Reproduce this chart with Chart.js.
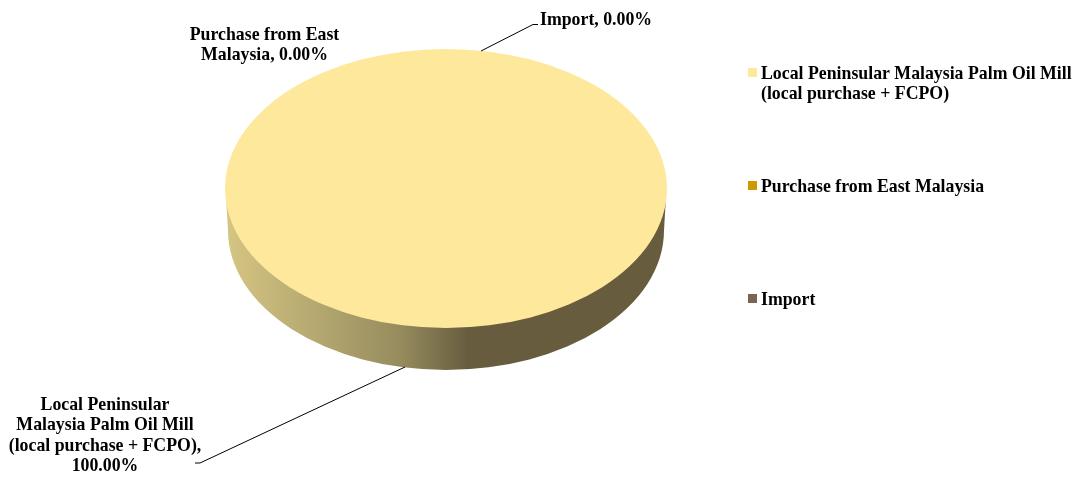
<!DOCTYPE html>
<html>
<head>
<meta charset="utf-8">
<title>Palm oil source</title>
<script src="https://cdn.jsdelivr.net/npm/chart.js@4"></script>
<style>
  html, body { margin: 0; padding: 0; background: #fff; }
  canvas { display: block; }
</style>
</head>
<body>
<canvas id="pieChart" width="1076" height="478"></canvas>
<script>
const categories = ['Local Peninsular Malaysia Palm Oil Mill (local purchase + FCPO)', 'Purchase from East Malaysia', 'Import'];
const shares = [100, 0, 0];
const sliceColors = ['#fee89b', '#c99b00', '#7a6555'];

// line breaks as they appear in the legend and in the slice labels
const legendLines = [['Local Peninsular Malaysia Palm Oil Mill', '(local purchase + FCPO)'], ['Purchase from East Malaysia'], ['Import']];
const labelLines = [['Local Peninsular', 'Malaysia Palm Oil Mill', '(local purchase + FCPO),'], ['Purchase from East'], []];

const FONT = 'bold 17.8px "Liberation Serif"';
const STRETCH_X = 221 / 139.5; // pie is squashed into an ellipse
const DEPTH = 42;
const WALL_INSET = 3; // bottom rim is a little narrower than the top face

// wall of the disc plus the squash transform around the pie
const tiltPlugin = {
    id: 'tilt',
    beforeDatasetsDraw(chart) {
        const ctx = chart.ctx;
        const arc = chart.getDatasetMeta(0).data[0];
        const rx = arc.outerRadius * STRETCH_X;
        const ry = arc.outerRadius;

        const wall = ctx.createLinearGradient(arc.x - rx, 0, arc.x + rx, 0);
        wall.addColorStop(0, '#d6c684');
        wall.addColorStop(0.4, '#958b5d');
        wall.addColorStop(0.55, '#675c3e');
        wall.addColorStop(1, '#675c3e');

        ctx.save();
        ctx.beginPath();
        ctx.ellipse(arc.x, arc.y + DEPTH, rx - WALL_INSET, ry, 0, 0, Math.PI);
        ctx.lineTo(arc.x - rx + 1, arc.y + 8);
        ctx.lineTo(arc.x + rx - 1, arc.y + 8);
        ctx.closePath();
        ctx.fillStyle = wall;
        ctx.fill();
        ctx.restore();

        ctx.save();
        ctx.translate(arc.x, arc.y);
        ctx.scale(STRETCH_X, 1);
        ctx.translate(-arc.x, -arc.y);
    },
    afterDatasetsDraw(chart) {
        chart.ctx.restore();
    }
};

function pct(i) {
    return shares[i].toFixed(2) + '%';
}

function leader(ctx, points) {
    ctx.beginPath();
    points.forEach((p, i) => i ? ctx.lineTo(p[0], p[1]) : ctx.moveTo(p[0], p[1]));
    ctx.strokeStyle = '#000';
    ctx.lineWidth = 1;
    ctx.stroke();
}

function textBlock(ctx, lines, x, y, lineHeight) {
    lines.forEach((line, i) => ctx.fillText(line, x, y + i * lineHeight));
}

const annotationPlugin = {
    id: 'annotations',
    afterDraw(chart) {
        const ctx = chart.ctx;
        ctx.save();
        ctx.font = FONT;
        ctx.fillStyle = '#000';
        ctx.textBaseline = 'middle';

        // slice labels
        ctx.textAlign = 'center';
        textBlock(ctx, [...labelLines[0], pct(0)], 105, 405, 20.6);
        textBlock(ctx, [labelLines[1][0], 'Malaysia, ' + pct(1)], 264.5, 35, 20.6);
        ctx.textAlign = 'left';
        ctx.fillText(categories[2] + ', ' + pct(2), 540, 20);

        leader(ctx, [[405, 367], [200, 463], [195, 463]]);
        leader(ctx, [[481, 51], [533, 24.5], [538, 24.5]]);

        // legend
        const legendY = [74, 187, 300];
        legendLines.forEach((lines, i) => {
            ctx.fillStyle = sliceColors[i];
            ctx.fillRect(748, legendY[i] - 6, 9, 9);
            ctx.fillStyle = '#000';
            textBlock(ctx, lines, 761, legendY[i], 20.6);
        });
        ctx.restore();
    }
};

new Chart(document.getElementById('pieChart'), {
    type: 'pie',
    data: {
        labels: categories,
        datasets: [{
            data: shares,
            backgroundColor: sliceColors,
            borderWidth: 0,
            clip: false
        }]
    },
    options: {
        responsive: false,
        animation: false,
        // leaves a 442x279 area, centred where the disc top sits
        layout: { padding: { left: 225, right: 409, top: 49, bottom: 150 } },
        plugins: {
            legend: { display: false },
            tooltip: { enabled: false }
        }
    },
    plugins: [tiltPlugin, annotationPlugin]
});
</script>
</body>
</html>
